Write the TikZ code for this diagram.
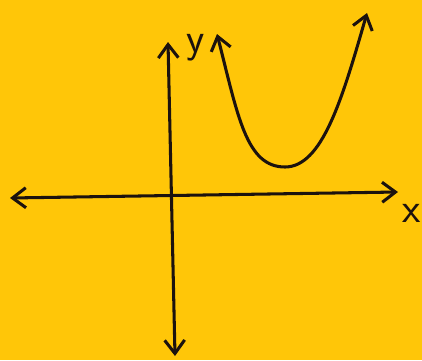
\documentclass[tikz,border=0pt]{standalone}
\usepackage{tikz}
\usetikzlibrary{arrows.meta}
\definecolor{paper}{RGB}{255,198,8}
\definecolor{ink}{RGB}{28,18,14}

\begin{document}
\begin{tikzpicture}[
      x=0.03cm, y=-0.03cm,
      >={Straight Barb[length=4mm, width=6mm]},
      pen/.style={draw=ink, line width=2.6pt, line cap=round, line join=round},
      lbl/.style={text=ink, font=\sffamily\fontsize{36}{36}\selectfont, inner sep=0pt},
    ]
      \fill[paper] (0,0) rectangle (422,360);
      \useasboundingbox (0,0) rectangle (422,360);

      % axes
      \coordinate (xl) at (10,198);
      \coordinate (xr) at (398,192);
      \coordinate (yt) at (168,42);
      \coordinate (yb) at (175,356);
      \draw[pen,<->] (xl) -- (xr);
      \draw[pen,<->] (yt) -- (yb);

      \node[lbl] (xlab) at (412,213) {x};
      \node[lbl] (ylab) at (196,48) {y};

      % parabola
      \coordinate (pl) at (217,34);
      \coordinate (pm) at (285,167);
      \coordinate (pr) at (367,13);
      \draw[pen,<->] (pl) .. controls (238,116) and (246,167) .. (pm)
                          .. controls (322,167) and (342,100) .. (pr);
    \end{tikzpicture}
\end{document}
